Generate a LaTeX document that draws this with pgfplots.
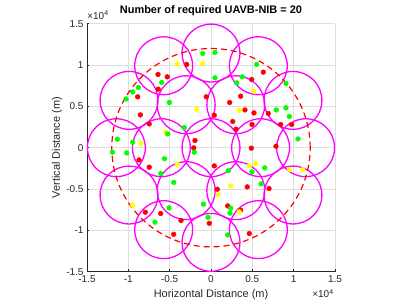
\documentclass[border=0pt]{standalone}
\usepackage{fontspec}
\setmainfont{Liberation Sans}
\usepackage{pgfplots}
\usepackage{pgfplotstable}
\pgfplotsset{compat=1.18}
\usetikzlibrary{calc}
\definecolor{mred}{rgb}{1,0,0}
\definecolor{mgreen}{rgb}{0,1,0}
\definecolor{myellow}{rgb}{1,1,0}
\definecolor{mmag}{rgb}{1,0,1}

\pgfplotstableread{
x y
-2940 10070
-6410 8860
-5290 8570
-6380 7080
-8870 6150
-570 6150
-8550 3970
-7470 2880
-1940 870
-2090 -20
6330 9140
4920 8250
3590 6230
2260 5470
4110 4570
5200 4210
400 3930
2630 3170
4960 2810
3020 2240
6930 4140
8430 2810
9760 2810
4880 -60
7860 180
400 -2200
4390 -4740
7020 -4940
760 -5020
2020 -7040
3590 -7560
-210 -9140
4630 -10380
-8710 -1480
-7470 -2360
-7950 -7800
-6090 -7960
-3630 -8810
-4510 -10470
}\redpts

\pgfplotstableread{
x y
-1000 11400
480 11520
-5960 7890
-8790 7280
-9470 6750
-10280 5900
-5040 5470
-3230 2440
-5240 1670
-11330 1030
-9470 670
5530 10070
480 8450
3790 8570
3110 7840
9070 7770
7900 4570
9070 4820
9470 3780
10520 1060
-2020 -540
-11920 -540
-10200 -630
-5630 -1330
-6070 -3120
-4500 -4200
6500 -2440
4960 -2930
2090 -2780
6050 -4380
-910 -6830
2380 -7320
2300 -7920
-360 -8430
2020 -10550
-5080 -7280
-6780 -9010
}\greenpts

\pgfplotstableread{
x y
-1000 10190
-4110 10140
-1730 4660
-8470 520
-5500 1900
3420 4540
5170 6840
-4080 -2000
4630 -2180
5420 -1910
9500 -2630
11090 -2660
2380 -4630
870 -5690
3420 -7770
-9470 -6960
}\yellowpts

\begin{document}
\begin{tikzpicture}
\begin{axis}[
  name=ax, at={(0,0)}, anchor=south west,
  scale only axis, width=248bp, height=248bp,
  xmin=-15000, xmax=15000, ymin=-15000, ymax=15000,
  xtick={-15000,-10000,-5000,0,5000,10000,15000},
  xticklabels={-1.5,-1,-0.5,0,0.5,1,1.5},
  ytick={-15000,-10000,-5000,0,5000,10000,15000},
  yticklabels={-1.5,-1,-0.5,0,0.5,1,1.5},
  scaled ticks=false,
  axis x line*=bottom, axis y line*=left,
  axis line style={-, black!85, line width=0.5pt},
  grid=major, grid style={black!13, line width=0.5pt},
  tick align=inside, major tick length=2.5bp,
  tick style={black!85, line width=0.5pt},
  tick label style={font=\fontsize{10}{12}\selectfont, text=black!85},
  xlabel={Horizontal Distance (m)}, ylabel={Vertical Distance (m)},
  label style={font=\fontsize{11}{13}\selectfont, text=black!85},
  xlabel style={at={(axis description cs:0.5,-0.106)}, anchor=base},
  ylabel style={at={(axis description cs:-0.121,0.5)}, anchor=center},
  title={Number of required UAVB-NIB = 20},
  title style={at={(axis description cs:0.5,1.016)}, anchor=base, font=\fontsize{11}{13}\selectfont\bfseries},
  clip=true,
]
\addplot[only marks, mark=*, mark size=2.4bp, color=mred, mark options={draw=mred, fill=mred}] table {\redpts};
\addplot[only marks, mark=*, mark size=2.4bp, color=myellow, mark options={draw=myellow, fill=myellow}] table {\yellowpts};
\addplot[only marks, mark=*, mark size=2.4bp, color=mgreen, mark options={draw=mgreen, fill=mgreen}] table {\greenpts};

\draw[mmag, line width=1.3bp] (axis cs:0,0) circle [radius=3500];
\draw[mmag, line width=1.3bp] (axis cs:6000,0) circle [radius=3500];
\draw[mmag, line width=1.3bp] (axis cs:3000,5196) circle [radius=3500];
\draw[mmag, line width=1.3bp] (axis cs:-3000,5196) circle [radius=3500];
\draw[mmag, line width=1.3bp] (axis cs:-6000,0) circle [radius=3500];
\draw[mmag, line width=1.3bp] (axis cs:-3000,-5196) circle [radius=3500];
\draw[mmag, line width=1.3bp] (axis cs:3000,-5196) circle [radius=3500];
\draw[mmag, line width=1.3bp] (axis cs:11450,0) circle [radius=3500];
\draw[mmag, line width=1.3bp] (axis cs:9916,5725) circle [radius=3500];
\draw[mmag, line width=1.3bp] (axis cs:5725,9916) circle [radius=3500];
\draw[mmag, line width=1.3bp] (axis cs:0,11450) circle [radius=3500];
\draw[mmag, line width=1.3bp] (axis cs:-5725,9916) circle [radius=3500];
\draw[mmag, line width=1.3bp] (axis cs:-9916,5725) circle [radius=3500];
\draw[mmag, line width=1.3bp] (axis cs:-11450,0) circle [radius=3500];
\draw[mmag, line width=1.3bp] (axis cs:-9916,-5725) circle [radius=3500];
\draw[mmag, line width=1.3bp] (axis cs:-5725,-9916) circle [radius=3500];
\draw[mmag, line width=1.3bp] (axis cs:0,-11450) circle [radius=3500];
\draw[mmag, line width=1.3bp] (axis cs:5725,-9916) circle [radius=3500];
\draw[mmag, line width=1.3bp] (axis cs:9916,-5725) circle [radius=3500];

\draw[mred, line width=1.2bp, dash pattern=on 6bp off 4bp] (axis cs:0,0) circle [radius=12000];
\end{axis}
\node[font=\fontsize{10}{12}\selectfont, text=black!85] at ($(ax.north west)+(11bp,8.5bp)$) {×10\textsuperscript{4}};
\node[font=\fontsize{10}{12}\selectfont, text=black!85] at ($(ax.south east)+(-12bp,-22bp)$) {×10\textsuperscript{4}};
\pgfresetboundingbox
\path[use as bounding box] ($(ax.south west)+(-87bp,-33.3bp)$) rectangle ($(ax.south west)+(320bp,271.7bp)$);
\end{tikzpicture}
\end{document}
